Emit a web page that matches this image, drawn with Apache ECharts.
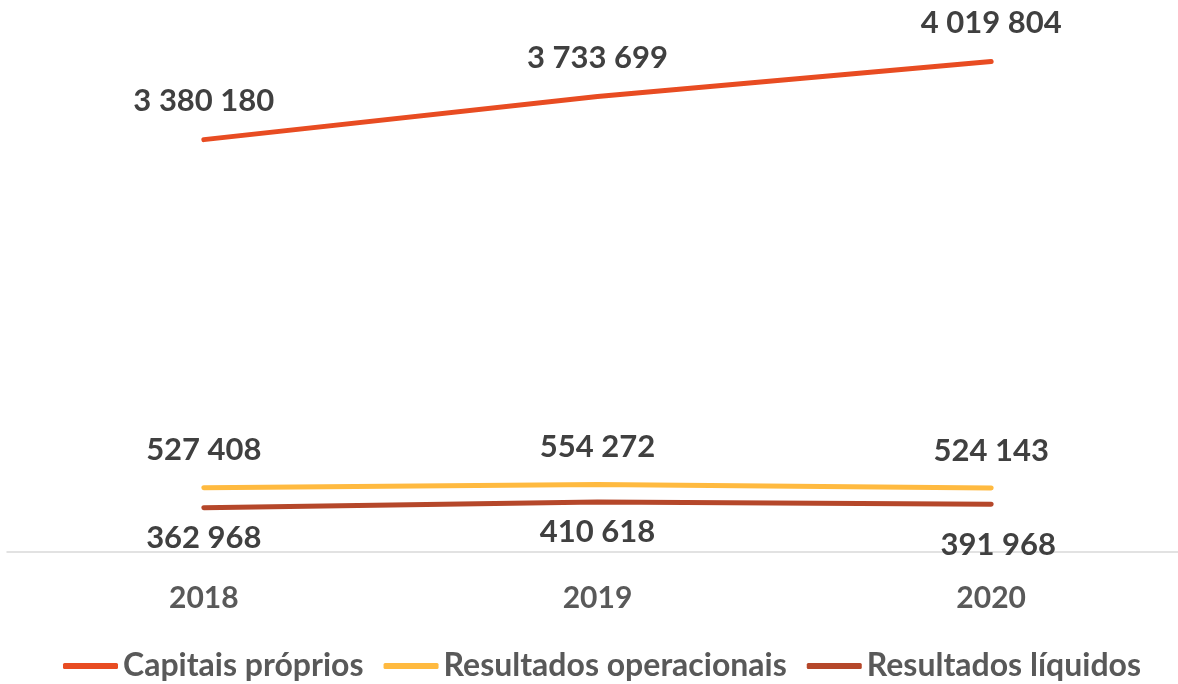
<!DOCTYPE html>
<html>
<head>
<meta charset="utf-8">
<script src="https://cdn.jsdelivr.net/npm/echarts@6/dist/echarts.min.js"></script>
<style>
  html, body { margin: 0; padding: 0; background: #fff; overflow: hidden; }
  /* 原图右侧被裁切，容器比窗口略宽 */
  #chart { width: 1188px; height: 684px; }
</style>
</head>
<body>
<div id="chart"></div>
<script>
// 数据
const years = ['2018', '2019', '2020']
const capitaisProprios = [3380180, 3733699, 4019804]
const resultadosOperacionais = [527408, 554272, 524143]
const resultadosLiquidos = [362968, 410618, 391968]

// 千位空格分隔
const fmt = (v) => String(v).replace(/\B(?=(\d{3})+(?!\d))/g, ' ')

const FONT = 'Lato, "Open Sans", sans-serif'
const labelStyle = {
  show: true,
  fontFamily: FONT,
  fontWeight: 'bold',
  fontSize: 31,
  color: '#404040',
  formatter: (p) => fmt(p.value)
}

// 2020 的净利润标签在原图中略向右下偏移
const liquidosData = resultadosLiquidos.map((v, i) =>
  i === 2 ? { value: v, label: { offset: [7, 10] } } : v
)

const chart = echarts.init(document.getElementById('chart'))
chart.setOption({
  animation: false,
  grid: { left: 7, right: 0, top: 3, bottom: 132 },
  legend: {
    top: 645,
    left: 58,
    icon: 'roundRect',
    itemWidth: 55,
    itemHeight: 6,
    itemGap: 20,
    textStyle: { fontFamily: FONT, fontWeight: 'bold', fontSize: 32, color: '#595959' }
  },
  xAxis: {
    type: 'category',
    data: years,
    boundaryGap: true,
    axisLine: { lineStyle: { color: '#D9D9D9', width: 1.5 } },
    axisTick: { show: false },
    axisLabel: { fontFamily: FONT, fontWeight: 'bold', fontSize: 30, color: '#595959', margin: 31 }
  },
  yAxis: {
    type: 'value',
    min: 0,
    max: 4500000,
    show: false,
    splitLine: { show: false }
  },
  series: [
    {
      name: 'Capitais próprios',
      type: 'line',
      data: capitaisProprios,
      symbol: 'circle',
      symbolSize: 0,
      lineStyle: { color: '#E84C22', width: 5, cap: 'round' },
      itemStyle: { color: '#E84C22' },
      label: { ...labelStyle, position: 'top', distance: 23 }
    },
    {
      name: 'Resultados operacionais',
      type: 'line',
      data: resultadosOperacionais,
      symbol: 'circle',
      symbolSize: 0,
      lineStyle: { color: '#FFBA40', width: 5, cap: 'round' },
      itemStyle: { color: '#FFBA40' },
      label: { ...labelStyle, position: 'top', distance: 22 }
    },
    {
      name: 'Resultados líquidos',
      type: 'line',
      data: liquidosData,
      symbol: 'circle',
      symbolSize: 0,
      lineStyle: { color: '#B5472A', width: 5, cap: 'round' },
      itemStyle: { color: '#B5472A' },
      label: { ...labelStyle, position: 'bottom', distance: 15 }
    }
  ]
})
</script>
</body>
</html>
